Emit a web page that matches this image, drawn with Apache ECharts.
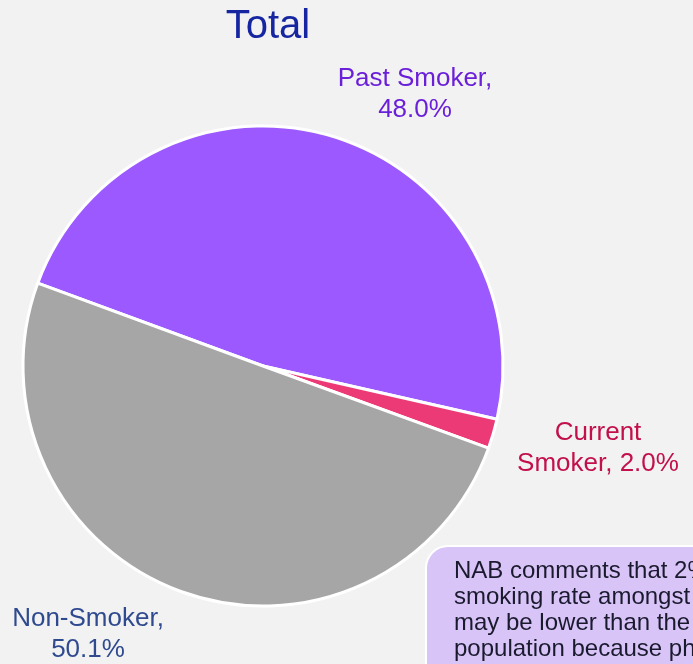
<!DOCTYPE html>
<html>
<head>
<meta charset="utf-8">
<script src="https://cdn.jsdelivr.net/npm/echarts@6/dist/echarts.min.js"></script>
<style>
html,body{margin:0;padding:0;background:#f2f2f2;}
#c{width:693px;height:664px;}
</style>
</head>
<body>
<div id="c"></div>
<script>
const categories = ['Past Smoker', 'Current Smoker', 'Non-Smoker'];
const values = [48.0, 2.0, 50.1];
const labelTexts = ['Past Smoker,\n48.0%', 'Current\nSmoker, 2.0%', 'Non-Smoker,\n50.1%'];
const noteText = 'NAB comments that 2% current\nsmoking rate amongst members\nmay be lower than the general\npopulation because physicians';

const sliceColors = ['#9c59ff', '#ec3a77', '#a6a6a6'];
const labelColors = ['#6a1fd8', '#c2104a', '#2f4a8f'];
const labelPos = [[415, 94], [598, 448], [88, 634]];

const chart = echarts.init(document.getElementById('c'));
chart.setOption({
  backgroundColor: '#f2f2f2',
  animation: false,
  title: {
    text: 'Total', left: 263, top: 2, textAlign: 'center',
    textStyle: { fontFamily: 'Liberation Sans', fontSize: 40, fontWeight: 'normal', color: '#1526a0' }
  },
  series: [{
    type: 'pie',
    center: [263, 366],
    radius: [0, 240],
    startAngle: 159.8,
    clockwise: true,
    avoidLabelOverlap: false,
    itemStyle: { borderColor: '#ffffff', borderWidth: 3 },
    label: {
      show: true, position: 'outside',
      fontFamily: 'Liberation Sans', fontSize: 26, lineHeight: 31, align: 'center',
      formatter: p => labelTexts[p.dataIndex]
    },
    labelLine: { show: false },
    labelLayout: p => ({ x: labelPos[p.dataIndex][0], y: labelPos[p.dataIndex][1], align: 'center', verticalAlign: 'middle' }),
    data: categories.map((c, i) => ({
      name: c, value: values[i],
      itemStyle: { color: sliceColors[i] },
      label: { color: labelColors[i] }
    }))
  }],
  graphic: [{
    type: 'rect',
    shape: { x: 426, y: 546, width: 320, height: 160, r: 22 },
    style: { fill: '#d9c4f8', stroke: '#ffffff', lineWidth: 2 }
  }, {
    type: 'text',
    x: 454, y: 558,
    style: {
      text: noteText, fill: '#1a1a2e',
      fontFamily: 'Liberation Sans', fontSize: 24, lineHeight: 26
    }
  }]
});
</script>
</body>
</html>
